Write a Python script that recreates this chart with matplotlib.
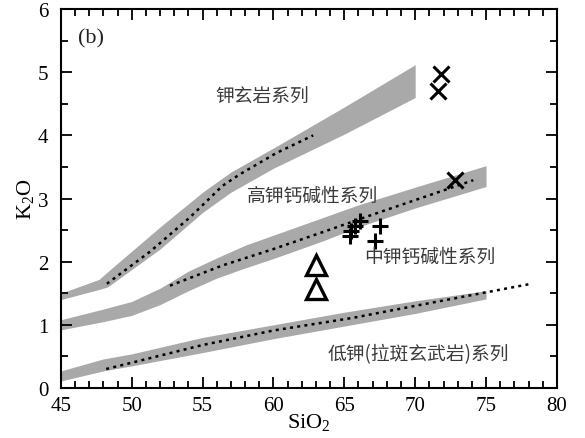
import matplotlib
matplotlib.use("Agg")
import matplotlib.pyplot as plt
from matplotlib.ticker import MultipleLocator

plt.rcParams['font.family'] = ['Liberation Serif', 'DejaVu Serif']
plt.rcParams['mathtext.fontset'] = 'custom'
plt.rcParams['mathtext.rm'] = 'Liberation Serif'
plt.rcParams['mathtext.it'] = 'Liberation Serif:italic'

# ---- data ----
# Shoshonite series band
sho_x = [45, 47.7, 48.3, 52, 55, 57, 60, 65, 70]
sho_up = [1.50, 1.72, 1.84, 2.55, 3.10, 3.42, 3.80, 4.45, 5.12]
sho_lo = [1.40, 1.56, 1.60, 2.20, 2.78, 3.10, 3.48, 4.02, 4.60]
sho_dx = [48.25, 51.3, 54.1, 56.4, 57.6, 60.2, 62.8]
sho_dy = [1.65, 2.16, 2.70, 3.20, 3.38, 3.72, 4.00]

# High-K calc-alkaline band
hk_x = [45, 48, 50, 52, 54, 56, 58, 60, 63.5, 66, 70, 75]
hk_up = [1.08, 1.25, 1.37, 1.58, 1.85, 2.06, 2.26, 2.42, 2.70, 2.90, 3.18, 3.52]
hk_lo = [0.92, 1.05, 1.15, 1.32, 1.54, 1.74, 1.90, 2.05, 2.33, 2.55, 2.85, 3.19]
hk_dx = [52.7, 56.4, 60.0, 63.5, 66.8, 74.1]
hk_dy = [1.62, 1.94, 2.20, 2.47, 2.73, 3.29]

# Low-K (tholeiite) band
lk_x = [45, 48, 50, 55, 60, 65, 70, 75]
lk_up = [0.27, 0.46, 0.54, 0.80, 1.00, 1.20, 1.38, 1.54]
lk_lo = [0.11, 0.27, 0.35, 0.56, 0.78, 0.98, 1.18, 1.41]
lk_dx = [48.2, 50, 55, 60, 65.6, 70, 74.9, 78.2]
lk_dy = [0.30, 0.40, 0.68, 0.91, 1.11, 1.30, 1.51, 1.65]

# Samples
cross_x = [71.8, 71.6, 72.8]
cross_y = [4.98, 4.70, 3.29]
plus_x = [66.1, 65.75, 65.5, 65.4, 67.5, 67.2]
plus_y = [2.65, 2.56, 2.48, 2.41, 2.56, 2.33]
tri_x = [63.0, 63.0]
tri_y = [1.95, 1.56]

labels = ['钾玄岩系列', '高钾钙碱性系列', '中钾钙碱性系列', '低钾(拉斑玄武岩)系列']
label_x = [59.2, 62.75, 71.0, 70.2]
label_y = [4.62, 3.05, 2.08, 0.54]

# ---- plot ----
fig = plt.figure(figsize=(5.85, 4.39), dpi=100)
ax = fig.add_axes([0.104, 0.114, 0.848, 0.863])

band_c = '#a9a9a9'
for bx, up, lo in [(sho_x, sho_up, sho_lo), (hk_x, hk_up, hk_lo), (lk_x, lk_up, lk_lo)]:
    ax.fill_between(bx, lo, up, color=band_c, lw=0, zorder=1)
for dx, dy in [(sho_dx, sho_dy), (hk_dx, hk_dy), (lk_dx, lk_dy)]:
    ax.plot(dx, dy, color='black', lw=1.8, linestyle=(0, (1.2, 1.7)), zorder=2)

ax.plot(cross_x, cross_y, 'x', color='black', ms=12, mew=2.2, zorder=3)
ax.plot(plus_x, plus_y, '+', color='black', ms=12, mew=2.2, zorder=3)
ax.plot(tri_x, tri_y, '^', mfc='white', mec='black', ms=14, mew=2.4, zorder=3)

for t, x, y in zip(labels, label_x, label_y):
    ax.text(x, y, t, ha='center', va='center', fontsize=13.5, color='#3a3a3a',
            family=['Noto Sans CJK SC', 'DejaVu Sans'], zorder=4)
ax.text(46.2, 5.55, '(b)', ha='left', va='center', fontsize=16, color='#222222')

ax.set_xlim(45, 80)
ax.set_ylim(0, 6)
ax.xaxis.set_major_locator(MultipleLocator(5))
ax.xaxis.set_minor_locator(MultipleLocator(1))
ax.yaxis.set_major_locator(MultipleLocator(1))
ax.yaxis.set_minor_locator(MultipleLocator(0.5))
ax.tick_params(which='both', direction='in', top=True, right=True, width=1.3, labelsize=15)
ax.tick_params(which='major', length=8)
ax.tick_params(which='minor', length=5)
ax.tick_params(axis='y', pad=9)
ax.tick_params(axis='x', pad=6)
for s in ax.spines.values():
    s.set_linewidth(1.5)

ax.set_xlabel(r'SiO$_2$', fontsize=16, labelpad=-3)
ax.set_ylabel(r'K$_2$O', fontsize=16, labelpad=1)

fig.savefig('out.png', dpi=100)
